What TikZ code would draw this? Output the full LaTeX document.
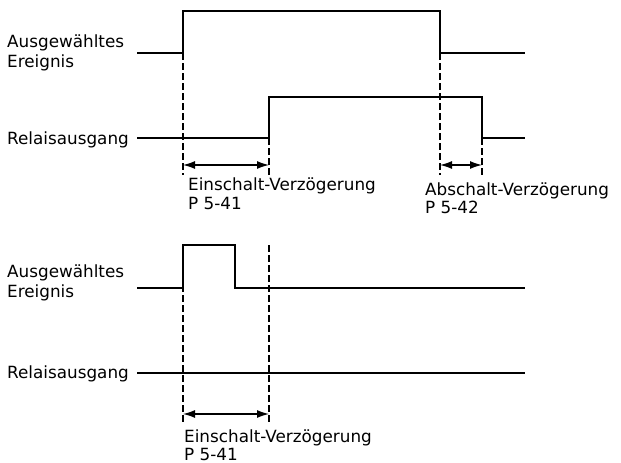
\documentclass[tikz,border=0pt]{standalone}
\usepackage{fontspec}
\setmainfont{DejaVu Sans}
\usetikzlibrary{arrows.meta}
\begin{document}
\begin{tikzpicture}[x=1pt,y=-1pt,
  sig/.style={line width=1.3pt},
  dsh/.style={line width=1.1pt,dash pattern=on 7pt off 3pt},
  dim/.style={line width=1.3pt,{Latex[length=12pt,width=8pt]}-{Latex[length=12pt,width=8pt]}},
  lbl/.style={anchor=base west,inner sep=0pt,font=\fontsize{16.8}{19}\selectfont}]
\useasboundingbox (0,0) rectangle (621,463);
% ---------- top diagram ----------
\node[lbl] (a1) at (7,47) {Ausgewähltes};
\node[lbl] (a2) at (7,67) {Ereignis};
\node[lbl] (r1) at (7,144) {Relaisausgang};
\draw[sig] (137,53) -- (183,53) -- (183,11) -- (440,11) -- (440,53) -- (525,53);
\draw[sig] (137,138) -- (269,138) -- (269,97) -- (482,97) -- (482,138) -- (525,138);
\coordinate (d1t) at (183,53);  \coordinate (d1b) at (183,175);
\coordinate (d2t) at (269,138); \coordinate (d2b) at (269,175);
\coordinate (d3t) at (440,53);  \coordinate (d3b) at (440,175);
\coordinate (d4t) at (482,138); \coordinate (d4b) at (482,175);
\draw[dsh] (d1t) -- (d1b);
\draw[dsh] (d2t) -- (d2b);
\draw[dsh] (d3t) -- (d3b);
\draw[dsh] (d4t) -- (d4b);
\coordinate (e1) at (183,165); \coordinate (e2) at (269,165);
\coordinate (f1) at (440,165); \coordinate (f2) at (482,165);
\draw[dim] (e1) -- (e2);
\draw[dim] (f1) -- (f2);
\node[lbl] (t1) at (188,190) {Einschalt-Verzögerung};
\node[lbl] (t2) at (188,209) {P 5-41};
\node[lbl] (t3) at (425,195) {Abschalt-Verzögerung};
\node[lbl] (t4) at (425,213) {P 5-42};
% ---------- bottom diagram ----------
\node[lbl] (b1) at (7,277) {Ausgewähltes};
\node[lbl] (b2) at (7,297) {Ereignis};
\node[lbl] (r2) at (7,378) {Relaisausgang};
\draw[sig] (137,288) -- (183,288) -- (183,245) -- (235,245) -- (235,288) -- (525,288);
\draw[sig] (137,373) -- (525,373);
\coordinate (g1t) at (183,245); \coordinate (g1b) at (183,424);
\coordinate (g2t) at (269,245); \coordinate (g2b) at (269,424);
\draw[dsh] (g1t) -- (g1b);
\draw[dsh] (g2t) -- (g2b);
\coordinate (h1) at (183,414); \coordinate (h2) at (269,414);
\draw[dim] (h1) -- (h2);
\node[lbl] (u1) at (184,442) {Einschalt-Verzögerung};
\node[lbl] (u2) at (184,460) {P 5-41};
\end{tikzpicture}
\end{document}
